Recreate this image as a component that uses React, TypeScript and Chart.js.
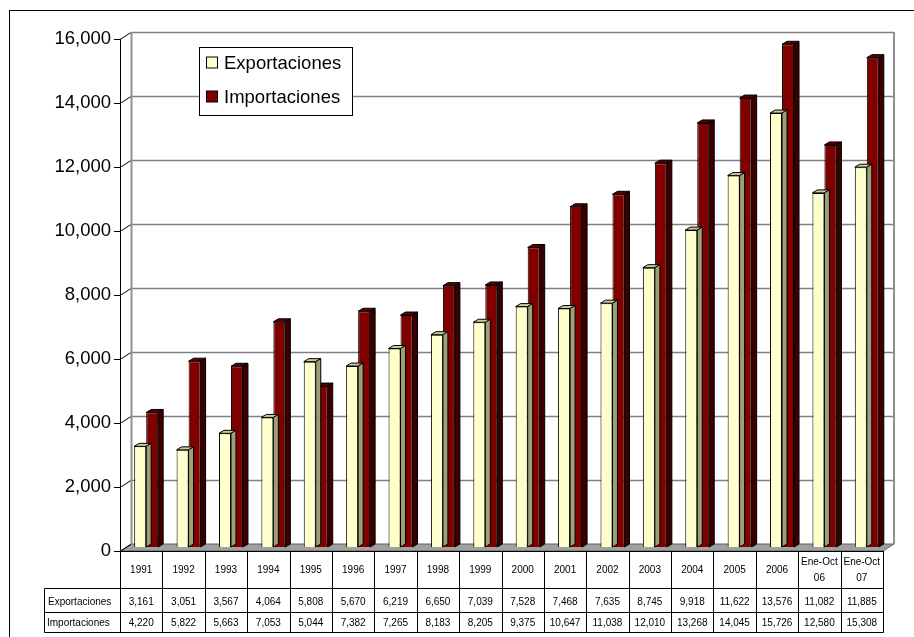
import React, { useEffect, useRef } from "react";
import { Chart, registerables } from "chart.js";

Chart.register(...registerables);

// Years / periods shown along the floor of the chart
const categories = [
  "1991", "1992", "1993", "1994", "1995", "1996", "1997", "1998", "1999",
  "2000", "2001", "2002", "2003", "2004", "2005", "2006", "Ene-Oct 06", "Ene-Oct 07",
];
// Values (same as printed in the data table)
const exportaciones = [
  3161, 3051, 3567, 4064, 5808, 5670, 6219, 6650, 7039,
  7528, 7468, 7635, 8745, 9918, 11622, 13576, 11082, 11885,
];
const importaciones = [
  4220, 5822, 5663, 7053, 5044, 7382, 7265, 8183, 8205,
  9375, 10647, 11038, 12010, 13268, 14045, 15726, 12580, 15308,
];
const seriesNames = ["Exportaciones", "Importaciones"];
const yMin = 0;
const yMax = 16000;
const yStep = 2000;

const FONT = "'Liberation Sans', Arial, Helvetica, sans-serif";
const COLORS = {
  exp: { front: "#FFFFCC", top: "#CCCC99", side: "#9E9E78" },
  imp: { front: "#800000", top: "#5C0000", side: "#3A0000" },
};
const WALL = { dx: 11, dy: -7 };
const BAR_SHIFT = { dx: 5, dy: -3.5 };
const BAR_DEPTH = { dx: 5, dy: -3 };

const fmt = (v: number) => v.toLocaleString("en-US");

const threeDPlugin = {
  id: "threeD",
  beforeDatasetsDraw(chart: any) {
    const { ctx, chartArea: a, scales } = chart;
    const y = scales.y;
    ctx.save();
    // floor
    ctx.beginPath();
    ctx.moveTo(a.left, a.bottom);
    ctx.lineTo(a.left + WALL.dx, a.bottom + WALL.dy);
    ctx.lineTo(a.right + WALL.dx, a.bottom + WALL.dy);
    ctx.lineTo(a.right, a.bottom);
    ctx.closePath();
    ctx.fillStyle = "#A0A0A0";
    ctx.fill();
    ctx.strokeStyle = "#606060";
    ctx.lineWidth = 1;
    ctx.stroke();

    // gridlines on the back wall + diagonals on the side wall
    for (let v = yMin; v <= yMax; v += yStep) {
      const py = Math.round(y.getPixelForValue(v)) + 0.5;
      if (v > yMin) {
        ctx.beginPath();
        ctx.moveTo(a.left + WALL.dx, py + WALL.dy);
        ctx.lineTo(a.right + WALL.dx, py + WALL.dy);
        ctx.strokeStyle = "#808080";
        ctx.lineWidth = 1.5;
        ctx.stroke();
      }
      ctx.beginPath();
      ctx.moveTo(a.left, py);
      ctx.lineTo(a.left + WALL.dx, py + WALL.dy);
      ctx.strokeStyle = "#000";
      ctx.lineWidth = 1;
      ctx.stroke();
    }
    // back-wall left and right edges
    const topY = Math.round(y.getPixelForValue(yMax)) + WALL.dy;
    ctx.beginPath();
    ctx.moveTo(a.left + WALL.dx + 0.5, topY);
    ctx.lineTo(a.left + WALL.dx + 0.5, a.bottom + WALL.dy);
    ctx.moveTo(a.right + WALL.dx, topY);
    ctx.lineTo(a.right + WALL.dx, a.bottom + WALL.dy);
    ctx.strokeStyle = "#909090";
    ctx.lineWidth = 2;
    ctx.stroke();
    ctx.restore();
  },
  beforeDatasetDraw(chart: any) {
    chart.ctx.save();
    chart.ctx.translate(BAR_SHIFT.dx, BAR_SHIFT.dy);
  },
  afterDatasetDraw(chart: any, args: any) {
    const { ctx } = chart;
    const c = args.index === 0 ? COLORS.exp : COLORS.imp;
    args.meta.data.forEach((el: any) => {
      const p = el.getProps(["x", "y", "base", "width"], true);
      const l = p.x - p.width / 2;
      const r = p.x + p.width / 2;
      const t = p.y;
      const b = p.base;
      ctx.lineWidth = 1;
      ctx.strokeStyle = "#000";
      ctx.beginPath();
      ctx.moveTo(l, t);
      ctx.lineTo(l + BAR_DEPTH.dx, t + BAR_DEPTH.dy);
      ctx.lineTo(r + BAR_DEPTH.dx, t + BAR_DEPTH.dy);
      ctx.lineTo(r, t);
      ctx.closePath();
      ctx.fillStyle = c.top;
      ctx.fill();
      ctx.stroke();
      ctx.beginPath();
      ctx.moveTo(r, t);
      ctx.lineTo(r + BAR_DEPTH.dx, t + BAR_DEPTH.dy);
      ctx.lineTo(r + BAR_DEPTH.dx, b + BAR_DEPTH.dy);
      ctx.lineTo(r, b);
      ctx.closePath();
      ctx.fillStyle = c.side;
      ctx.fill();
      ctx.stroke();
    });
    ctx.restore();
  },
  afterDraw(chart: any) {
    const { ctx, chartArea: a, scales } = chart;
    const x = scales.x;
    const n = categories.length;
    const colW = (a.right - a.left) / n;
    const headBottom = 588.5;
    const rowMid = 612.5;
    const tableBottom = 632.5;
    const labelLeft = 44.5;
    ctx.save();
    ctx.strokeStyle = "#000";
    ctx.lineWidth = 1;
    // table grid
    ctx.beginPath();
    ctx.moveTo(a.left, a.bottom + 0.5);
    ctx.lineTo(a.right, a.bottom + 0.5);
    [headBottom, rowMid, tableBottom].forEach((yy) => {
      ctx.moveTo(labelLeft, yy);
      ctx.lineTo(a.right + 0.5, yy);
    });
    for (let i = 0; i <= n; i++) {
      const xx = Math.round(a.left + i * colW) + 0.5;
      ctx.moveTo(xx, a.bottom);
      ctx.lineTo(xx, tableBottom);
    }
    ctx.moveTo(labelLeft, headBottom);
    ctx.lineTo(labelLeft, tableBottom);
    ctx.stroke();

    // table texts
    ctx.fillStyle = "#000";
    ctx.font = `10px ${FONT}`;
    ctx.textAlign = "center";
    ctx.textBaseline = "middle";
    categories.forEach((cat, i) => {
      const cx = x.getPixelForValue(i);
      const lines = cat.split(" ");
      if (lines.length === 1) {
        ctx.fillText(cat, cx, 570);
      } else {
        ctx.fillText(lines[0], cx, 562);
        ctx.fillText(lines[1], cx, 578.5);
      }
      ctx.fillText(fmt(exportaciones[i]), cx, 602);
      ctx.fillText(fmt(importaciones[i]), cx, 623);
    });
    ctx.textAlign = "left";
    ctx.fillText(seriesNames[0], 48, 602);
    ctx.fillText(seriesNames[1], 47, 623);

    // legend
    const lx = 199.5, ly = 47.5, lw = 153, lh = 68;
    ctx.fillStyle = "#fff";
    ctx.fillRect(lx, ly, lw, lh);
    ctx.strokeRect(lx, ly, lw, lh);
    ctx.font = `18.5px ${FONT}`;
    ctx.textBaseline = "middle";
    [COLORS.exp.front, COLORS.imp.front].forEach((col, i) => {
      const cy = i === 0 ? 63 : 97;
      ctx.fillStyle = col;
      ctx.fillRect(206.5, cy - 6, 11, 11);
      ctx.strokeRect(206.5, cy - 6, 11, 11);
      ctx.fillStyle = "#000";
      ctx.fillText(seriesNames[i], 224, cy + 1);
    });

    // outer frame
    ctx.strokeRect(9.5, 10.5, 2000, 2000);
    ctx.restore();
  },
};

export default function App() {
  const ref = useRef<HTMLCanvasElement | null>(null);

  useEffect(() => {
    if (!ref.current) return;
    const chart = new Chart(ref.current, {
      type: "bar",
      data: {
        labels: categories,
        datasets: [
          {
            label: seriesNames[0],
            data: exportaciones,
            backgroundColor: COLORS.exp.front,
            borderColor: "#000",
            borderWidth: 1,
          },
          {
            label: seriesNames[1],
            data: importaciones,
            backgroundColor: COLORS.imp.front,
            borderColor: "#000",
            borderWidth: 1,
          },
        ],
      },
      options: {
        responsive: false,
        animation: false,
        devicePixelRatio: 1,
        layout: { padding: { left: 0, right: 31, top: 39, bottom: 86 } },
        datasets: {
          bar: { barPercentage: 1, categoryPercentage: 0.566 },
        },
        plugins: {
          legend: { display: false },
          tooltip: { enabled: false },
        },
        scales: {
          x: { display: false },
          y: {
            min: yMin,
            max: yMax,
            afterFit: (s: any) => {
              s.width = 120;
            },
            ticks: {
              stepSize: yStep,
              padding: 3,
              color: "#000",
              font: { family: FONT, size: 18.5 },
              callback: (v: any) => fmt(Number(v)),
            },
            grid: {
              drawOnChartArea: false,
              drawTicks: true,
              tickLength: 6,
              color: "#000",
            },
            border: { display: true, color: "#000", width: 1 },
          },
        },
      },
      plugins: [threeDPlugin],
    });
    return () => chart.destroy();
  }, []);

  return (
    <div style={{ position: "fixed", left: 0, top: 0, width: 914, height: 637, background: "#fff" }}>
      <canvas ref={ref} width={914} height={637} />
    </div>
  );
}
